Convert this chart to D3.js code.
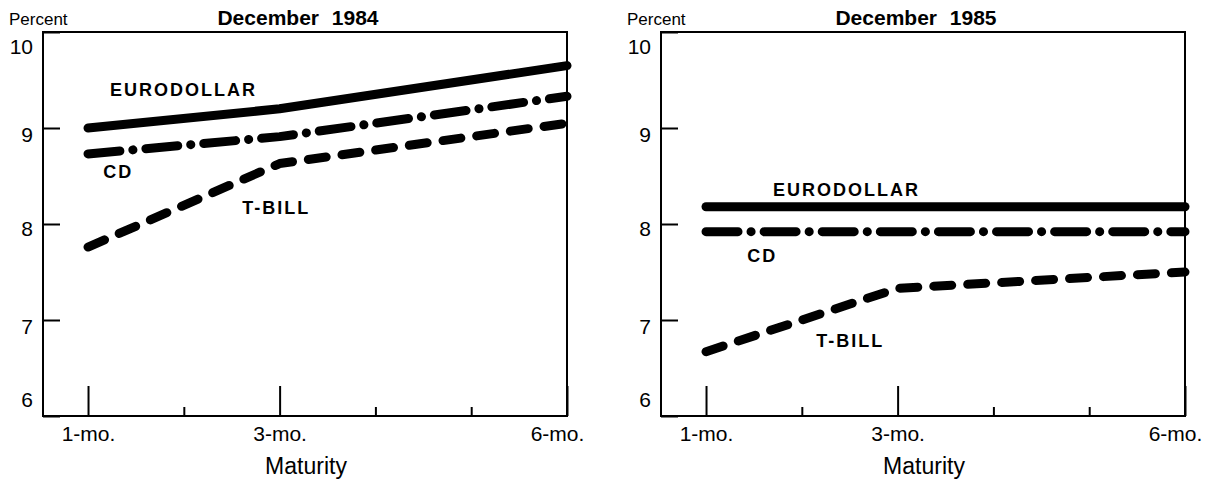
<!DOCTYPE html>
<html>
<head>
<meta charset="utf-8">
<title>Yield curves</title>
<script src="https://cdn.jsdelivr.net/npm/d3@7"></script>
<style>
  body { margin: 0; background: #fff; }
  svg { display: block; font-family: "Liberation Sans", Arial, sans-serif; }
  .tick line { stroke: #000; stroke-width: 2; }
  .tick text { fill: #000; }
  .frame { fill: none; stroke: #000; stroke-width: 2; }
  .series { fill: none; stroke: #000; stroke-width: 9; stroke-linecap: round; stroke-linejoin: round; }
  .lab { font-weight: bold; font-size: 18px; letter-spacing: 2px; }
</style>
</head>
<body>
<script>
// data
var maturities = [1, 3, 6];
var euro1984 = [9.0, 9.2, 9.65];
var cd1984 = [8.73, 8.91, 9.33];
var tbill1984 = [7.76, 8.63, 9.05];
var euro1985 = [8.18, 8.18, 8.18];
var cd1985 = [7.92, 7.92, 7.92];
var tbill1985 = [6.67, 7.33, 7.50];
var yTicks = [6, 7, 8, 9, 10];
var majorTicks = [1, 3, 6];
var minorTicks = [2, 4, 5];
var xTickLabels = ["1-mo.", "3-mo.", "6-mo."];
var seriesNames = ["EURODOLLAR", "CD", "T-BILL"];
var titles = ["December 1984", "December 1985"];

// where the series names sit, in chart units [month, percent]
var labelSpots = [
  [[1.23, 9.33], [1.16, 8.48], [2.61, 8.10]],
  [[1.70, 8.29], [1.43, 7.60], [2.15, 6.72]]
];

var panels = [
  [euro1984, cd1984, tbill1984],
  [euro1985, cd1985, tbill1985]
];

var dashes = [null, "32,13,0.1,13", "18,16"];

var W = 1214, H = 481;
var svg = d3.select("body").append("svg")
    .attr("width", W)
    .attr("height", H);

var x = d3.scaleLinear().domain([0.53, 6]).range([43, 567]);
var y = d3.scaleLinear().domain([6, 10]).range([416, 32]);

// label centre offsets for the y tick numbers
var yLabOff = {6: -16, 7: 7, 8: 5, 9: 7, 10: 15};

panels.forEach(function(series, p) {
    var g = svg.append("g").attr("transform", "translate(" + (p * 618) + ",0)");

    g.append("text")
        .attr("x", 9).attr("y", 25)
        .attr("font-size", "17px")
        .text("Percent");

    g.append("text")
        .attr("x", (x.range()[0] + x.range()[1]) / 2 - 7)
        .attr("y", 25)
        .attr("text-anchor", "middle")
        .attr("font-size", "21px")
        .attr("font-weight", "bold")
        .attr("word-spacing", "7px")
        .text(titles[p]);

    // y axis, ticks pointing inward
    var ya = g.append("g")
        .attr("transform", "translate(" + x.range()[0] + ",0)")
        .call(d3.axisLeft(y).tickValues(yTicks).tickSize(-17).tickPadding(10).tickFormat(d3.format("d")));
    ya.select(".domain").remove();
    ya.selectAll(".tick text")
        .attr("font-size", "21px")
        .attr("y", function(d) { return yLabOff[d]; });

    // x axis: minor and major ticks
    var xm = g.append("g")
        .attr("transform", "translate(0," + y.range()[0] + ")")
        .call(d3.axisBottom(x).tickValues(minorTicks).tickSize(-9).tickFormat(""));
    xm.select(".domain").remove();

    var xa = g.append("g")
        .attr("transform", "translate(0," + y.range()[0] + ")")
        .call(d3.axisBottom(x).tickValues(majorTicks).tickSize(-30).tickPadding(10)
            .tickFormat(function(d, i) { return xTickLabels[i]; }));
    xa.select(".domain").remove();
    xa.selectAll(".tick text")
        .attr("font-size", "21px")
        .attr("dx", function(d) { return d === 6 ? -10 : 0; });

    g.append("rect").attr("class", "frame")
        .attr("x", x.range()[0]).attr("y", y.range()[1])
        .attr("width", x.range()[1] - x.range()[0])
        .attr("height", y.range()[0] - y.range()[1]);

    g.append("text")
        .attr("x", 306).attr("y", 474)
        .attr("text-anchor", "middle")
        .attr("font-size", "23px")
        .text("Maturity");

    var line = d3.line()
        .x(function(d, i) { return x(maturities[i]); })
        .y(function(d) { return y(d); });

    series.forEach(function(vals, s) {
        g.append("path")
            .attr("class", "series")
            .attr("stroke-dasharray", dashes[s])
            .attr("d", line(vals));
    });

    g.selectAll(".lab")
        .data(labelSpots[p])
        .enter()
        .append("text")
        .attr("class", "lab")
        .attr("x", function(d) { return x(d[0]); })
        .attr("y", function(d) { return y(d[1]); })
        .text(function(d, i) { return seriesNames[i]; });
});
</script>
</body>
</html>
